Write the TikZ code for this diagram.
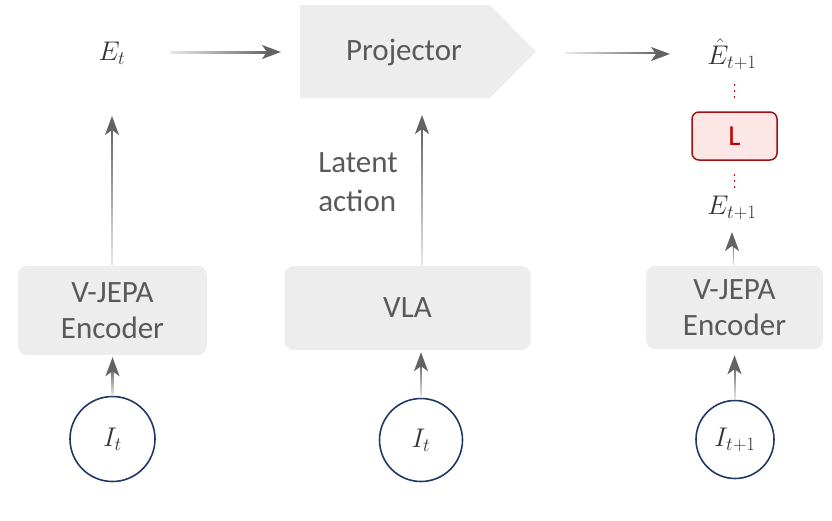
\RequirePackage{fix-cm}
\documentclass[tikz,border=0pt]{standalone}
\usepackage{fontspec}
\setmainfont{Carlito}
\usetikzlibrary{arrows.meta}
\definecolor{txt}{HTML}{595959}
\definecolor{mtxt}{HTML}{333333}
\definecolor{boxfill}{HTML}{EDEDED}
\definecolor{navy}{HTML}{1F3864}
\definecolor{arrg}{HTML}{636363}
\definecolor{arrlight}{HTML}{EAEAEA}
\definecolor{lred}{HTML}{C00000}
\definecolor{lborder}{HTML}{A01010}
\definecolor{lfill}{HTML}{FDE6E6}
% gradient connectors: tail (#1) light, tip (#2) dark; both named coordinates
\newcommand\vconn[2]{%
  \shade[top color=arrg, bottom color=arrlight] ([xshift=-0.9pt]#1) rectangle ([xshift=0.9pt,yshift=-10pt]#2);
  \draw[arr] ([yshift=-12pt]#2) -- (#2);}
\newcommand\hconn[2]{%
  \shade[left color=arrlight, right color=arrg] ([yshift=-0.9pt]#1) rectangle ([yshift=0.9pt,xshift=-10pt]#2);
  \draw[arr] ([xshift=-12pt]#2) -- (#2);}
\begin{document}
\begin{tikzpicture}[x=1pt,y=-1pt,
 boxn/.style={fill=boxfill, rounded corners=9pt, text=txt, font=\fontsize{31}{36}\selectfont, align=center, inner sep=0pt},
 mathn/.style={text=mtxt, font=\fontsize{27}{30}\selectfont, inner sep=0pt},
 circn/.style={circle, draw=navy, line width=1.6pt, inner sep=0pt, text=mtxt, font=\fontsize{27}{30}\selectfont},
 arr/.style={draw=arrg, line width=1.9pt, -{Stealth[length=19pt,width=14pt,inset=5pt]}},
 dotr/.style={draw=lred, line width=1.8pt, dash pattern=on 2pt off 4pt},
]
\useasboundingbox (0,0) rectangle (832,520);

% projector
\fill[boxfill] (300,5) -- (490,5) -- (536,51.5) -- (490,98) -- (300,98) -- cycle;
\node[text=txt, font=\fontsize{31}{36}\selectfont, inner sep=0pt] (proj) at (404,52) {Projector};
\coordinate (projL) at (300,52);
\coordinate (projR) at (536,52);
\coordinate (projB) at (422,98);

% math labels
\node[mathn] (Et) at (112,53) {$E_t$};
\node[mathn] (Ehat) at (732,54) {$\hat{E}_{t+1}$};
\node[mathn] (Etp) at (732,208) {$E_{t+1}$};

% loss box
\node[draw=lborder, fill=lfill, rounded corners=7pt, line width=1.5pt, minimum width=85pt, minimum height=48pt, text=lred, font=\fontsize{29}{32}\selectfont, inner sep=0pt] (L) at (734.5,136) {L};

% boxes
\node[boxn, minimum width=189pt, minimum height=89pt] (enc1) at (112.5,310.5) {V-JEPA\\Encoder};
\node[boxn, minimum width=246pt, minimum height=84pt] (vla) at (407.5,308) {VLA};
\node[boxn, minimum width=177pt, minimum height=83pt] (enc2) at (734.5,307.5) {V-JEPA\\Encoder};

% circles
\node[circn, minimum size=85pt] (c1) at (112.5,439) {$I_t$};
\node[circn, minimum size=83pt] (c2) at (421,440) {$I_t$};
\node[circn, minimum size=78pt] (c3) at (735,439.5) {$I_{t+1}$};

% latent action label
\node[text=txt, font=\fontsize{31}{39}\selectfont, align=left, inner sep=0pt] (la) at (358,182) {Latent\\action};

% connector end points
\coordinate (h1s) at ([xshift=58pt]Et.center);
\coordinate (h1e) at ([xshift=-19pt]projL);
\coordinate (h2s) at ([xshift=29pt]projR);
\coordinate (h2e) at ([xshift=-62pt]Ehat.center);
\coordinate (v1e) at ([yshift=-63pt]Et.center);
\coordinate (v2s) at ([xshift=14.5pt]vla.north);
\coordinate (v2e) at ([yshift=-17pt]projB);
\coordinate (v3e) at ([yshift=-24pt]Etp.center);
\coordinate (u1e) at ([yshift=-2pt]enc1.south);
\coordinate (u2e) at ([yshift=-2pt]c2.north |- vla.south);
\coordinate (u3e) at ([yshift=-6pt]enc2.south);

% arrows
\hconn{h1s}{h1e}
\hconn{h2s}{h2e}
\vconn{enc1.north}{v1e}
\vconn{v2s}{v2e}
\vconn{enc2.north}{v3e}
\vconn{c1.north}{u1e}
\vconn{c2.north}{u2e}
\vconn{c3.north}{u3e}

% dotted links
\draw[dotr] ([yshift=13pt]L.north) -- ([yshift=28pt]L.north);
\draw[dotr] ([yshift=-13pt]L.south) -- ([yshift=-28pt]L.south);
\end{tikzpicture}
\end{document}
